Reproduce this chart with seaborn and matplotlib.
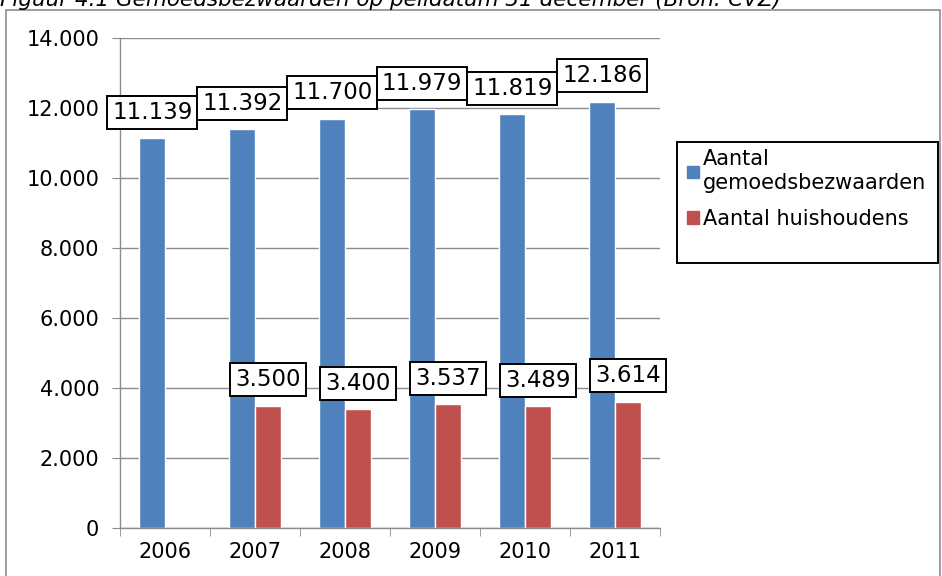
import matplotlib
matplotlib.use("Agg")
import matplotlib.pyplot as plt
import matplotlib.patches as mpatches
from matplotlib.ticker import FuncFormatter, FixedLocator
import seaborn as sns
import pandas as pd
import numpy as np

# data
years = ["2006", "2007", "2008", "2009", "2010", "2011"]
gemoedsbezwaarden = [11139, 11392, 11700, 11979, 11819, 12186]
huishoudens = [np.nan, 3500, 3400, 3537, 3489, 3614]
series_names = ["Aantal\ngemoedsbezwaarden", "Aantal huishoudens"]
colors = ["#4F81BD", "#C0504D"]

df = pd.concat([
    pd.DataFrame({"jaar": years, "reeks": series_names[0], "aantal": gemoedsbezwaarden}),
    pd.DataFrame({"jaar": years, "reeks": series_names[1], "aantal": huishoudens}),
]).dropna()


def nl_fmt(v, pos=None):
    return f"{v:,.0f}".replace(",", ".")


sns.set_style("white")
plt.rcParams["font.family"] = ["DejaVu Sans"]
plt.rcParams["text.color"] = "black"

fig = plt.figure(figsize=(9.42, 5.76), dpi=100)
ax = fig.add_axes([0.1274, 0.0833, 0.5732, 0.8507])

sns.barplot(
    data=df, x="jaar", y="aantal", hue="reeks",
    order=years, hue_order=series_names,
    palette=colors, width=0.57, saturation=1,
    errorbar=None, legend=False, ax=ax
)

# data labels in boxes
for cont in ax.containers:
    for bar in cont:
        h = bar.get_height()
        if np.isnan(h) or h == 0:
            continue
        ax.annotate(
            nl_fmt(h),
            (bar.get_x() + bar.get_width() / 2, h),
            xytext=(0, 18.5), textcoords="offset points",
            ha="center", va="center", fontsize=16.5, color="black",
            bbox=dict(boxstyle="square,pad=0.22", fc="white", ec="black", lw=1.4),
            zorder=5,
        )

ax.set_ylim(0, 14000)
ax.set_xlim(-0.5, 5.5)
ax.set_yticks(range(0, 14001, 2000))
ax.yaxis.set_major_formatter(FuncFormatter(nl_fmt))
ax.grid(axis="y", color="#8c8c8c", lw=1)
ax.set_axisbelow(True)
ax.set_xlabel("")
ax.set_ylabel("")

ax.xaxis.set_minor_locator(FixedLocator(np.arange(-0.5, 6, 1)))
ax.tick_params(axis="x", which="major", length=0, labelsize=15, pad=10, labelcolor="black")
ax.tick_params(axis="x", which="minor", length=6, color="#8c8c8c", direction="out")
ax.tick_params(axis="y", length=6, color="#8c8c8c", direction="out", labelsize=15,
               pad=9, labelcolor="black")
ax.tick_params(bottom=True, left=True, which="both")

for s in ["top", "right"]:
    ax.spines[s].set_visible(False)
for s in ["left", "bottom"]:
    ax.spines[s].set_color("#8c8c8c")
    ax.spines[s].set_linewidth(1)

handles = [mpatches.Patch(color=c, label=n) for c, n in zip(colors, series_names)]
leg = fig.legend(
    handles=handles, loc="upper left", bbox_to_anchor=(683 / 942, 1 - 145 / 576),
    fontsize=15, frameon=False,
    handlelength=0.55, handleheight=0.55, handletextpad=0.2,
    borderpad=0.2, labelspacing=0.75, borderaxespad=0,
)
for t in leg.get_texts():
    t.set_linespacing(1.25)
    t.set_color("black")

# legend frame with the extra space below, as in the reference
fig.patches.append(mpatches.Rectangle(
    (677 / 942, 1 - 263 / 576), 261 / 942, 121 / 576,
    transform=fig.transFigure, fill=False, ec="black", lw=1.4,
))

# outer chart border
fig.patches.append(mpatches.Rectangle(
    (6 / 942, -0.01), 934 / 942, 1 - 10 / 576 + 0.01,
    transform=fig.transFigure, fill=False, ec="#8c8c8c", lw=1.2,
))

fig.text(0.0, 1 - 6 / 576, "Figuur 4.1 Gemoedsbezwaarden op peildatum 31 december (Bron: CVZ)",
         fontsize=15.5, style="italic", va="baseline", ha="left")

fig.savefig("out.png", dpi=100)
